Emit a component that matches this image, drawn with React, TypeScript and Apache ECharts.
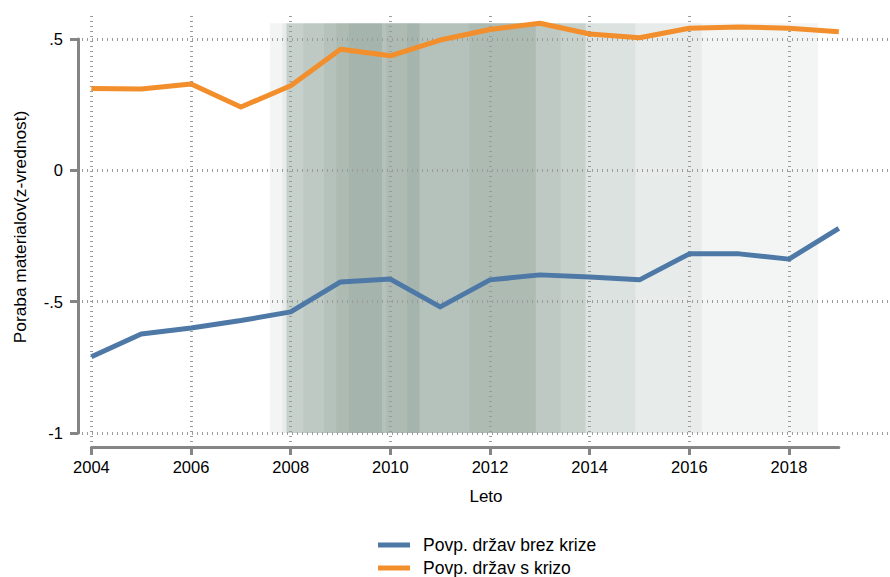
import React, { useEffect, useRef } from "react";
import * as echarts from "echarts";

// Yearly means of the standardised material-consumption indicator
const years = [2004, 2005, 2006, 2007, 2008, 2009, 2010, 2011, 2012, 2013, 2014, 2015, 2016, 2017, 2018, 2019];
const noCrisisMean = [-0.71, -0.623, -0.6, -0.572, -0.539, -0.425, -0.414, -0.52, -0.417, -0.398, -0.406, -0.417, -0.318, -0.318, -0.338, -0.221];
const crisisMean = [0.312, 0.31, 0.329, 0.241, 0.322, 0.461, 0.436, 0.496, 0.536, 0.56, 0.519, 0.505, 0.541, 0.546, 0.541, 0.528];

// Crisis periods (start, end) in decimal years; overlapping bands darken
const crisisPeriods: [number, number][] = [
  [2007.583, 2018.583],
  [2007.833, 2016.25],
  [2007.917, 2009.833],
  [2007.917, 2014.917],
  [2007.917, 2013.917],
  [2008.25, 2010.583],
  [2008.667, 2012.917],
  [2008.917, 2009.833],
  [2009.167, 2013.917],
  [2009.917, 2010.583],
  [2010.333, 2012.917],
  [2011.583, 2013.417],
];

const xTicks = [2004, 2006, 2008, 2010, 2012, 2014, 2016, 2018];
const yTicks = [-1, -0.5, 0, 0.5];
const yTickLabels = ["-1", "-.5", "0", ".5"];

const seriesNames = ["Povp. držav brez krize", "Povp. držav s krizo"];
const xTitle = "Leto";
const yTitle = "Poraba materialov(z-vrednost)";

const FONT = "'Liberation Sans', Arial, sans-serif";
const AXIS_GREY = "#858585";
const GRID_GREY = "#9c9c9c";

export default function App() {
  const ref = useRef<HTMLDivElement>(null);

  useEffect(() => {
    if (!ref.current) return;
    const chart = echarts.init(ref.current, undefined, { renderer: "svg" });

    // Axis frame (pixels): first and last year, top and bottom ticks
    const xFirst = 91.4;
    const xLast = 838.8;
    const yTopPx = 39;
    const yBotPx = 433;
    const pxPerYear = (xLast - xFirst) / (years[years.length - 1] - years[0]);
    const pxPerUnit = (yBotPx - yTopPx) / (yTicks[yTicks.length - 1] - yTicks[0]);

    // Plot region (pixels) in which the grid lines, bands and lines live
    const plotLeft = 82;
    const plotRight = 890;
    const plotTop = 12;
    const plotBottom = 442;

    const xMin = years[0] - (xFirst - plotLeft) / pxPerYear;
    const xMax = years[0] + (plotRight - xFirst) / pxPerYear;
    const yMax = yTicks[yTicks.length - 1] + (yTopPx - plotTop) / pxPerUnit;
    const yMin = yTicks[0] - (plotBottom - yBotPx) / pxPerUnit;

    const bandTop = Math.max(...crisisMean);

    const gridLine = { color: GRID_GREY, width: 3, type: [1, 4] as number[] };

    chart.setOption({
      animation: false,
      textStyle: { fontFamily: FONT },
      grid: [
        { left: plotLeft, top: plotTop, width: plotRight - plotLeft, height: plotBottom - plotTop },
        { left: xFirst, top: yTopPx, width: xLast - xFirst, height: yBotPx - yTopPx },
      ],
      xAxis: [
        {
          type: "value",
          gridIndex: 0,
          min: xMin,
          max: xMax,
          axisLine: { show: false, onZero: false },
          axisTick: { show: false },
          axisLabel: { show: false },
          splitLine: { show: false },
          name: xTitle,
          nameLocation: "middle",
          nameGap: 46,
          nameTextStyle: { fontSize: 17, color: "#000", fontFamily: FONT },
        },
        {
          type: "value",
          gridIndex: 1,
          min: years[0],
          max: years[years.length - 1],
          interval: 2,
          offset: 14,
          axisLine: { show: true, onZero: false, lineStyle: { color: AXIS_GREY, width: 3 } },
          axisTick: { show: true, length: 8, lineStyle: { color: AXIS_GREY, width: 3 }, customValues: xTicks },
          axisLabel: {
            show: true,
            customValues: xTicks,
            margin: 11,
            fontSize: 16.5,
            color: "#000",
            fontFamily: FONT,
            formatter: (v: number) => String(v),
          },
          splitLine: { show: false },
        },
      ],
      yAxis: [
        {
          type: "value",
          gridIndex: 0,
          min: yMin,
          max: yMax,
          axisLine: { show: false, onZero: false },
          axisTick: { show: false },
          axisLabel: { show: false },
          splitLine: { show: false },
          name: yTitle,
          nameLocation: "middle",
          nameGap: 54,
          nameTextStyle: { fontSize: 17.3, color: "#000", fontFamily: FONT },
        },
        {
          type: "value",
          gridIndex: 1,
          min: yTicks[0],
          max: yTicks[yTicks.length - 1],
          interval: 0.5,
          offset: xFirst - 78,
          axisLine: { show: true, onZero: false, lineStyle: { color: AXIS_GREY, width: 3 } },
          axisTick: { show: true, length: 8, lineStyle: { color: AXIS_GREY, width: 3 } },
          axisLabel: {
            show: true,
            margin: 15,
            fontSize: 16.5,
            color: "#000",
            fontFamily: FONT,
            formatter: (v: number) => {
              const i = yTicks.findIndex((t) => Math.abs(t - v) < 1e-9);
              return i >= 0 ? yTickLabels[i] : "";
            },
          },
          splitLine: { show: false },
        },
      ],
      legend: {
        orient: "vertical",
        left: 378,
        top: 535,
        height: 120,
        data: seriesNames,
        icon: "rect",
        itemWidth: 32,
        itemHeight: 5,
        itemGap: 3,
        padding: 0,
        textStyle: { fontSize: 17.5, color: "#000", fontFamily: FONT, lineHeight: 20, padding: [0, 0, 0, 8] },
      },
      series: [
        {
          name: seriesNames[0],
          type: "line",
          xAxisIndex: 0,
          yAxisIndex: 0,
          z: 4,
          data: years.map((y, i) => [y, noCrisisMean[i]]),
          showSymbol: false,
          symbol: "none",
          lineStyle: { color: "#4e79a7", width: 5, join: "round" },
          itemStyle: { color: "#4e79a7" },
          markArea: {
            silent: true,
            z: 1,
            itemStyle: { color: "rgba(30,80,60,0.055)" },
            data: crisisPeriods.map(([s, e]) => [
              { xAxis: s, yAxis: yTicks[0] },
              { xAxis: e, yAxis: bandTop },
            ]),
          },
          markLine: {
            silent: true,
            z: 2,
            symbol: "none",
            label: { show: false },
            lineStyle: gridLine,
            data: [
              ...xTicks.map((t) => ({ xAxis: t, lineStyle: gridLine })),
              ...yTicks.map((t) => ({ yAxis: t, lineStyle: gridLine })),
            ],
          },
        },
        {
          name: seriesNames[1],
          type: "line",
          xAxisIndex: 0,
          yAxisIndex: 0,
          z: 4,
          data: years.map((y, i) => [y, crisisMean[i]]),
          showSymbol: false,
          symbol: "none",
          lineStyle: { color: "#f28e2b", width: 5, join: "round" },
          itemStyle: { color: "#f28e2b" },
        },
        {
          type: "line",
          xAxisIndex: 1,
          yAxisIndex: 1,
          data: [],
          silent: true,
        },
      ],
    });

    return () => chart.dispose();
  }, []);

  return (
    <div
      ref={ref}
      style={{ position: "fixed", left: 0, top: 0, width: 890, height: 577, background: "#fff" }}
    />
  );
}
